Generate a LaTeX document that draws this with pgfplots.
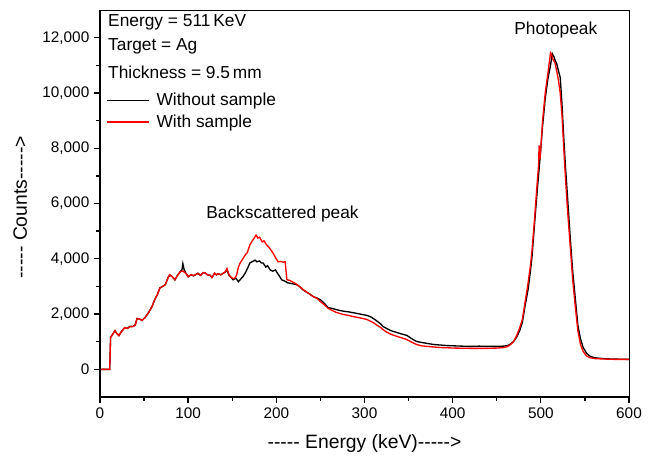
\documentclass[border=0pt]{standalone}
\usepackage{fontspec}
\setmainfont{Liberation Sans}[Ligatures=TeXOff]
\usepackage{pgfplots}
\pgfplotsset{compat=1.18}

% spectrum without sample (energy in keV, counts)
\pgfplotstableread{
E C
0 0
11 0
12 1150
15 1300
17 1400
19 1300
21.5 1220
24 1350
28 1510
31 1480
34 1560
37.5 1550
40 1620
42 1840
45 1820
47.6 1770
51 1870
55 2050
59 2270
62 2520
65 2700
68 2950
71 3000
74 3060
77 3300
79 3420
82 3350
85 3240
88 3400
91 3530
93 3600
94 3820
95.5 3600
98 3450
100 3350
103 3420
106 3380
108 3420
111 3480
114 3400
117 3500
119 3490
122 3420
125 3400
127 3320
130 3480
132 3420
134 3460
137 3420
140 3480
142 3520
144 3600
146 3420
148 3350
151 3240
154 3300
157 3170
160 3280
162 3350
165 3500
168 3700
170 3850
173 3900
176 3950
178 3890
181 3920
183 3850
185 3850
188 3700
190 3750
193 3600
196 3550
199 3600
201 3490
204 3350
206 3240
209 3200
213 3130
218 3100
223 3060
227 2980
230 2880
234 2800
238 2720
242 2630
246 2580
250 2520
254 2400
259 2230
264 2200
268 2160
272 2130
277 2100
282 2080
287 2050
292 2020
298 1980
303 1950
307 1900
310 1840
314 1750
318 1650
321 1550
325 1480
330 1400
337 1330
342 1280
348 1230
353 1120
359 1010
365 970
371 940
378 900
386 880
394 860
402 850
410 840
420 830
430 840
440 830
450 830
458 840
462 860
465 900
469 1000
473 1190
476 1400
479 1690
482 2270
485.5 2880
488 3500
490 4070
493 5300
496 6490
499 7600
502 8800
505 9800
508 10500
511 11000
513 11420
515 11300
516 11200
518 11060
520 10800
522 10560
524 9600
526 8400
528 7300
530 6380
533 4940
536 3600
539 2600
542 1600
545 1100
548 790
552 580
556 470
561 420
567 400
575 380
585 370
600 360
}\nosample

% spectrum with Ag sample
\pgfplotstableread{
E C
0 0
11 0
12 1150
15 1300
17 1400
19 1300
21.5 1220
24 1350
28 1510
31 1480
34 1540
37.5 1550
40 1600
42 1840
45 1820
47.6 1770
51 1870
55 2050
59 2270
62 2520
65 2700
68 2950
71 3000
74 3060
77 3300
79 3420
82 3350
85 3240
88 3400
91 3530
94 3560
98 3450
100 3350
103 3420
106 3400
108 3420
111 3470
114 3400
117 3500
119 3490
122 3420
125 3400
127 3320
130 3480
132 3420
134 3460
137 3420
140 3480
142 3520
144 3650
146 3450
148 3350
151 3280
153 3300
155 3420
157 3700
159 3850
162 4000
165 4150
167 4220
170 4500
172 4610
175 4750
177 4860
179 4750
181 4780
184 4610
186 4650
189 4500
192 4400
196 4220
199 4050
202 3890
205 3900
208 3880
210 3890
212 3240
215 3220
218 3170
223 3080
227 2980
230 2900
234 2800
238 2720
242 2630
246 2570
250 2450
254 2350
259 2200
264 2120
268 2060
272 2020
277 1980
282 1950
287 1910
292 1880
298 1840
303 1800
307 1740
310 1690
314 1600
318 1520
321 1440
325 1350
330 1270
337 1190
342 1140
348 1080
353 990
359 900
365 850
371 830
378 810
386 790
394 780
402 770
410 765
420 760
430 760
440 760
450 770
458 790
462 820
465 880
469 1000
473 1250
476 1500
479 1800
482 2400
485 3000
488 3700
490 4300
493 5500
496 6800
497.5 7400
498 8100
499 7600
500 8000
502 9000
505 10000
508 10700
511 11450
512 11400
514 11200
516 11100
518 10800
520 10450
522 10000
524 9200
526 8000
528 6900
530 5900
533 4600
536 3300
539 2300
542 1400
545 900
548 650
552 480
556 420
561 390
567 380
575 370
585 360
600 360
}\withsample

\begin{document}
\begin{tikzpicture}
\path[use as bounding box] (-75pt,-44.25pt) rectangle (415.5pt,297.75pt);
\begin{axis}[
    at={(0,0)}, anchor=south west,
    scale only axis,
    width=396.75pt, height=290.25pt,
    xmin=0, xmax=600,
    ymin=-1000, ymax=13000,
    xtick={0,100,...,600},
    ytick={0,2000,...,12000},
    minor tick num=1,
    tick pos=left,
    tick align=outside,
    major tick length=4.5pt,
    minor tick length=3pt,
    every tick/.style={black, line width=1pt},
    axis line style={line width=0.6pt},
    /pgf/number format/assume math mode=true,
    /pgf/number format/1000 sep={,},
    scaled ticks=false,
    ticklabel style={font=\fontsize{11.5}{13}\selectfont},
    xlabel={----- Energy (keV)----->},
    ylabel={----- Counts----->},
    xlabel style={at={(axis description cs:0.5,-0.119)}, anchor=center, font=\fontsize{14.5}{16}\selectfont},
    ylabel style={at={(axis description cs:-0.151,0.49)}, anchor=center, font=\fontsize{14.5}{16}\selectfont},
    legend style={at={(axis description cs:0.003,0.80)}, anchor=north west, draw=none, fill=none,
        font=\fontsize{13}{15}\selectfont, row sep=1.5pt},
    legend cell align={left},
    legend image code/.code={\draw[#1, line width=1.1pt] (0pt,0pt) -- (31.5pt,0pt); \path (35pt,0pt);},
    clip=false,
]
\addplot[black, line width=1pt] table[x=E, y=C] {\nosample};
\addlegendentry{Without sample}
\addplot[red, line width=1pt] table[x=E, y=C] {\withsample};
\addlegendentry{With sample}

\node[anchor=west, font=\fontsize{13}{15}\selectfont] at (axis cs:4,12540) {Energy = 511\,KeV};
\node[anchor=west, font=\fontsize{13}{15}\selectfont] at (axis cs:4,11675) {Target = Ag};
\node[anchor=west, font=\fontsize{13}{15}\selectfont] at (axis cs:4,10740) {Thickness = 9.5\,mm};
\node[font=\fontsize{13}{15}\selectfont] at (axis cs:207,5620) {Backscattered peak};
\node[font=\fontsize{13}{15}\selectfont] at (axis cs:517,12290) {Photopeak};

\draw[line width=1.4pt] (rel axis cs:0,1) -- (rel axis cs:0,0) -- (rel axis cs:1,0);
\end{axis}
\end{tikzpicture}
\end{document}
